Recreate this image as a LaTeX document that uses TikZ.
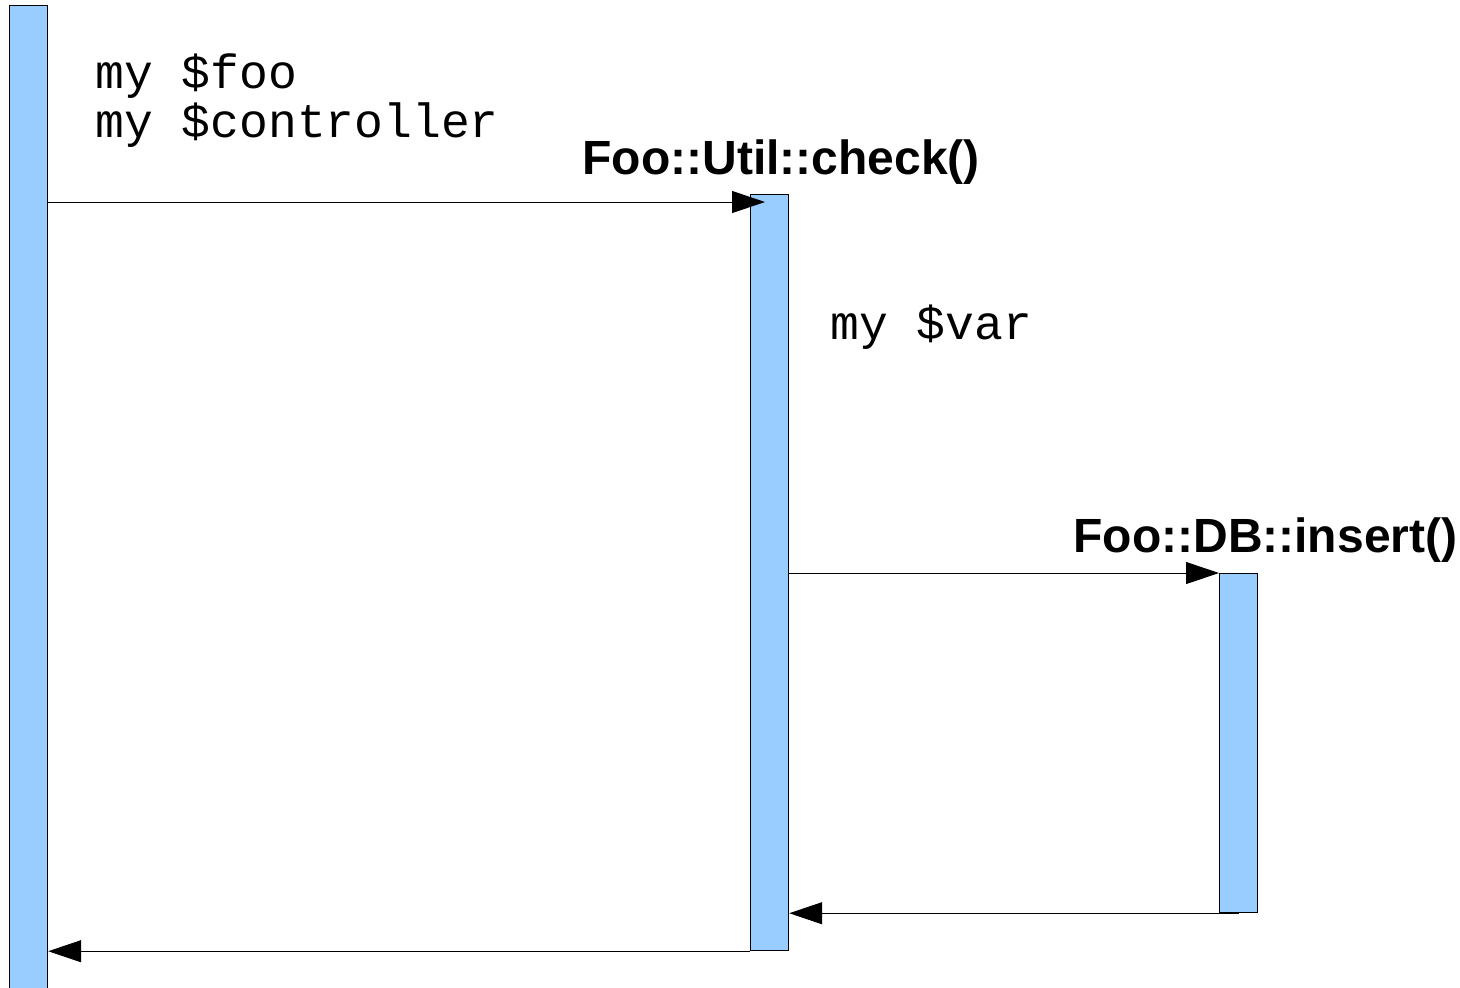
\documentclass[tikz,border=0pt]{standalone}
\usepackage{fontspec}
\setmainfont{Liberation Sans}
\newfontfamily\codefont{Liberation Mono}
\usetikzlibrary{arrows.meta,calc}
\definecolor{barblue}{HTML}{99CCFF}
\tikzset{
  bar/.style={draw=black, line width=0.6pt, fill=barblue, rectangle, inner sep=0pt, anchor=north west, minimum width=19pt},
  msg/.style={line width=0.5pt, -{Triangle[length=16.5pt,width=11pt]}},
  codetext/.style={anchor=base west, inner sep=0pt, font=\codefont\fontsize{24pt}{28pt}\selectfont},
  calltext/.style={anchor=base west, inner sep=0pt, font=\bfseries\fontsize{24pt}{28pt}\selectfont},
}
\begin{document}
\begin{tikzpicture}[x=0.5pt, y=-0.5pt]
\useasboundingbox (0,0) rectangle (1460,987);
% lifeline bars
\node[bar, minimum height=495pt] (A) at (9,5) {};
\node[bar, minimum height=378pt] (B) at (750,194) {};
\node[bar, minimum height=169.5pt] (C) at (1219,573) {};
% texts
\node[codetext] (t1) at (95,88) {my \$foo};
\node[codetext] (t2) at (95,137) {my \$controller};
\node[calltext] (t3) at (582,174) {Foo::Util::check()};
\node[codetext] (t4) at (830,339) {my \$var};
\node[calltext] (t5) at (1073,552) {Foo::DB::insert()};
% messages
\coordinate (m1) at (0,202);
\draw[msg] (A.east |- m1) -- ($(B.west |- m1)+(15,0)$);
\draw[msg] (B.east |- C.north west) -- (C.north west);
\draw[msg] (C.south) -- (B.east |- C.south);
\draw[msg] (B.south west) -- (A.east |- B.south west);
\end{tikzpicture}
\end{document}
